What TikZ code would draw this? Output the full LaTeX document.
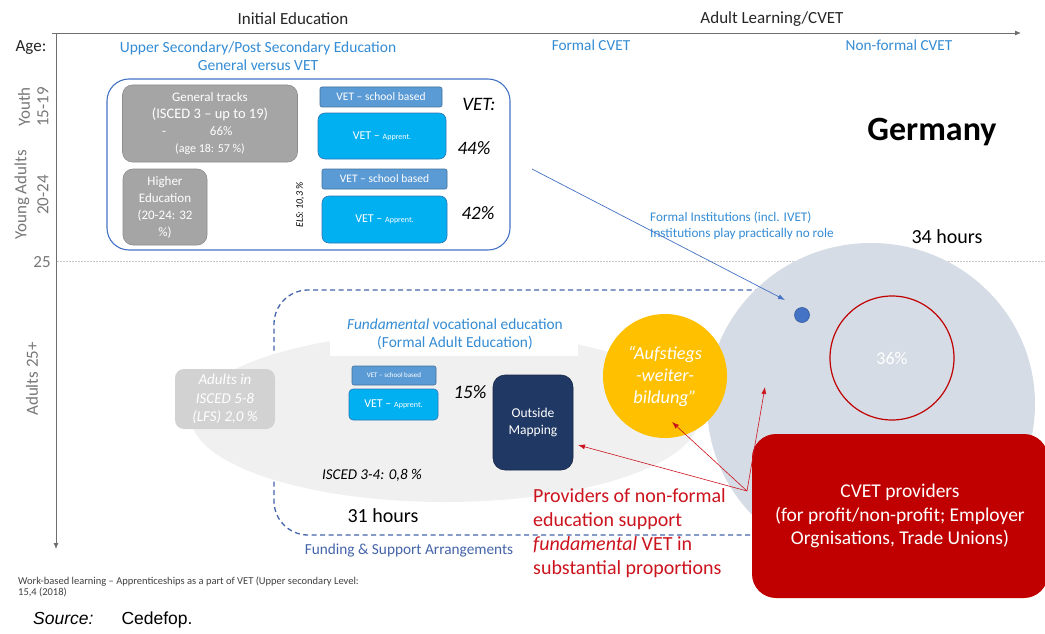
\documentclass[tikz,border=0pt]{standalone}
\usepackage{fontspec}
\setmainfont{Carlito}
\newfontfamily\arialf{Liberation Sans}
\usetikzlibrary{arrows.meta}
\definecolor{axisgray}{RGB}{110,110,110}
\definecolor{labgray}{RGB}{120,120,120}
\definecolor{txtblue}{RGB}{52,140,212}
\definecolor{frameblue}{RGB}{68,114,196}
\definecolor{gentrack}{RGB}{165,165,165}
\definecolor{gentrackb}{RGB}{140,140,140}
\definecolor{vetschool}{RGB}{91,155,213}
\definecolor{vetschoolb}{RGB}{65,113,156}
\definecolor{vetapp}{RGB}{0,176,240}
\definecolor{vetappb}{RGB}{46,117,182}
\definecolor{circgray}{RGB}{214,220,229}
\definecolor{ellgray}{RGB}{240,240,240}
\definecolor{adultgray}{RGB}{210,210,210}
\definecolor{navybox}{RGB}{32,56,100}
\definecolor{cvetred}{RGB}{192,0,0}
\definecolor{txtred}{RGB}{204,20,30}
\definecolor{yellowc}{RGB}{255,192,0}
\definecolor{dashblue}{RGB}{68,100,170}
\definecolor{dotblue}{RGB}{68,114,196}
\definecolor{dotgray}{RGB}{200,200,200}
\begin{document}
\begin{tikzpicture}[x=1pt,y=-1pt,
  axisline/.style={draw=axisgray, line width=0.9pt, -{Latex[length=6pt,width=5pt]}},
  grey box/.style={fill=gentrack, draw=gentrackb, line width=0.6pt, rounded corners=10pt, text=white, align=center, inner sep=0pt},
  schoolbox/.style={fill=vetschool, draw=vetschoolb, line width=0.6pt, rounded corners=2pt, text=white, inner sep=0pt},
  appbox/.style={fill=vetapp, draw=vetappb, line width=0.6pt, rounded corners=7pt, text=white, inner sep=0pt},
  bluetxt/.style={text=txtblue, inner sep=0pt, align=center},
  plain/.style={inner sep=0pt, align=center},
  agelab/.style={inner sep=0pt, rotate=90, text=labgray, font=\fontsize{17}{19}\selectfont},
  redarrow/.style={draw=txtred, line width=0.6pt, -{Latex[length=7pt,width=5pt]}},
]
\useasboundingbox (0,0) rectangle (1045,634);
\fill[white] (0,0) rectangle (1045,634);

% ---- axes
\coordinate (xs) at (52,33); \coordinate (xe) at (1021,33);
\coordinate (ys) at (56,33); \coordinate (ye) at (56,549);
\draw[axisline] (xs) -- (xe);
\draw[axisline] (ys) -- (ye);
\coordinate (ds) at (57,261); \coordinate (de) at (1045,261);
\draw[dotgray, line width=0.6pt, dash pattern=on 1.5pt off 1.5pt] (ds) -- (de);

\node[plain, text=black!85, font=\fontsize{17}{19}\selectfont] (init) at (293,19) {Initial Education};
\node[plain, text=black!85, font=\fontsize{17}{19}\selectfont] (adult) at (772,19) {Adult Learning/CVET};
\node[plain, text=black!85, font=\fontsize{17}{19}\selectfont] (age) at (31,48) {Age:};
\node[bluetxt, font=\fontsize{15.5}{18}\selectfont] (upper) at (258,56) {Upper Secondary/Post Secondary Education\\General versus VET};
\node[bluetxt, font=\fontsize{15.3}{18}\selectfont] (fcvet) at (591,45) {Formal CVET};
\node[bluetxt, font=\fontsize{15.3}{18}\selectfont] (nfcvet) at (899,45) {Non-formal CVET};

\node[agelab] (youth) at (24,107) {Youth};
\node[agelab] (y1519) at (43,107) {15-19};
\node[agelab] (yadult) at (22,195) {Young Adults};
\node[agelab] (y2024) at (43,195) {20-24};
\node[plain, text=labgray, font=\fontsize{17}{19}\selectfont] (y25) at (42,262) {25};
\node[agelab] (a25) at (32,379) {Adults 25+};

% ---- upper frame
\node[draw=frameblue, line width=1.1pt, rounded corners=22pt, minimum width=403pt, minimum height=171pt, inner sep=0pt] (frame) at (308.5,164.5) {};
\node[grey box, minimum width=175pt, minimum height=77pt, font=\fontsize{13}{17}\selectfont] (gen) at (210,123.5) {General tracks\\{\fontsize{14.5}{17}\selectfont(ISCED 3 -- up to 19)}\\\makebox[96pt][l]{-\hspace{44pt}66\%}\\{\fontsize{12}{13}\selectfont(age 18: 57 \%)}};
\node[grey box, minimum width=84pt, minimum height=76pt, font=\fontsize{13}{17}\selectfont] (higher) at (165,207) {Higher\\Education\\(20-24: 32\\\%)};
\node[schoolbox, minimum width=122pt, minimum height=20pt, font=\fontsize{11.5}{13}\selectfont] (vs1) at (381,97) {VET -- school based};
\node[appbox, minimum width=128pt, minimum height=46pt, font=\fontsize{12}{14}\selectfont] (va1) at (382,136) {VET -- {\fontsize{8}{10}\selectfont Apprent.}};
\node[schoolbox, minimum width=125pt, minimum height=20pt, font=\fontsize{11.5}{13}\selectfont] (vs2) at (384.5,179) {VET -- school based};
\node[appbox, minimum width=125pt, minimum height=47pt, font=\fontsize{12}{14}\selectfont] (va2) at (384.5,219.5) {VET -- {\fontsize{8}{10}\selectfont Apprent.}};
\node[plain, font=\itshape\fontsize{19}{21}\selectfont] (vetlab) at (479,104) {VET:};
\node[plain, font=\itshape\fontsize{19}{21}\selectfont] (p44) at (474,148) {44\%};
\node[plain, font=\itshape\fontsize{19}{21}\selectfont] (p42) at (478,213) {42\%};
\node[plain, rotate=90, font=\itshape\fontsize{10}{12}\selectfont] (els) at (300,205) {ELS: 10,3 \%};

\node[plain, font=\bfseries\fontsize{34}{38}\selectfont] (germany) at (932,132) {Germany};

% ---- lower region
\coordinate (dA) at (760,290); \coordinate (dB) at (274,290); \coordinate (dC) at (274,535); \coordinate (dD) at (760,535);
\draw[dashblue, line width=1.3pt, dash pattern=on 5pt off 3.5pt, rounded corners=34pt] (dA) -- (dB) -- (dC) -- (dD);
\fill[ellgray] (445,417) ellipse [x radius=254, y radius=85];

\fill[circgray] (871,404) ellipse [x radius=164, y radius=161];
\node[circle, fill=dotblue, draw=frameblue!80!black, line width=0.6pt, minimum size=15pt, inner sep=0pt] (dot) at (802,315) {};
\node[circle, draw=cvetred, line width=1.2pt, minimum size=124pt, inner sep=0pt, text=white, font=\fontsize{18}{20}\selectfont] (red36) at (892,358) {36\%};
\node[circle, fill=yellowc, minimum size=124pt, inner sep=0pt, text=white, align=center, font=\itshape\fontsize{18.3}{22}\selectfont] (yel) at (665,376) {``Aufstiegs\\-weiter-\\bildung''};

\node[bluetxt, align=left, font=\fontsize{13.2}{16}\selectfont, anchor=west] (finst) at (650,226) {Formal Institutions (incl. IVET)\\Institutions play practically no role};
\node[plain, font=\fontsize{20}{22}\selectfont] (h34) at (947,237) {34 hours};

\coordinate (blstart) at (532,169);
\coordinate (bltip) at (785,300);
\draw[draw=frameblue, line width=0.7pt, -{Latex[length=7pt,width=5pt]}] (blstart) -- (bltip);

\node[fill=white, minimum width=248pt, minimum height=43pt, inner sep=0pt] (fundbg) at (454,334.5) {};
\node[bluetxt, font=\fontsize{15.4}{18.5}\selectfont] (fund) at (455,334) {\textit{Fundamental} vocational education\\(Formal Adult Education)};

\node[fill=adultgray, rounded corners=9pt, minimum width=100pt, minimum height=60pt, inner sep=0pt, text=white, align=center, font=\itshape\fontsize{15}{18.5}\selectfont] (adults) at (225,399) {Adults in\\ISCED 5-8\\(LFS) 2,0 \%};
\node[schoolbox, minimum width=84pt, minimum height=19pt, font=\fontsize{7}{9}\selectfont] (vs3) at (394,375.5) {VET -- school based};
\node[appbox, rounded corners=4pt, minimum width=89pt, minimum height=31pt, font=\fontsize{12}{14}\selectfont] (va3) at (393.5,404.5) {VET -- {\fontsize{8}{10}\selectfont Apprent.}};
\node[plain, font=\itshape\fontsize{19}{21}\selectfont] (p15) at (470,392) {15\%};
\node[fill=navybox, draw=navybox!70!black, line width=0.6pt, rounded corners=12pt, minimum width=80pt, minimum height=95pt, inner sep=0pt, text=white, align=center, font=\fontsize{13.5}{17}\selectfont] (outside) at (533,422.5) {Outside\\Mapping};
\node[plain, font=\itshape\fontsize{15}{17}\selectfont] (isced34) at (372,475) {ISCED 3-4: 0,8 \%};
\node[plain, font=\fontsize{20}{22}\selectfont] (h31) at (383,516) {31 hours};
\node[plain, text=dashblue, font=\fontsize{15.3}{18}\selectfont] (funding) at (409,550) {Funding \& Support Arrangements};

\node[fill=cvetred, rounded corners=24pt, minimum width=296pt, minimum height=164pt, inner sep=0pt, text=white, align=center, font=\fontsize{19.5}{23.5}\selectfont] (cvet) at (900,516) {CVET providers\\(for profit/non-profit; Employer\\Orgnisations, Trade Unions)};

\node[plain, anchor=north west, align=left, text=txtred, font=\fontsize{20}{24}\selectfont] (prov) at (533,488) {Providers of non-formal\\education support\\\textit{fundamental} VET in\\substantial proportions};

\coordinate (rorig) at (747,491);
\coordinate (tipout) at (578,445);
\coordinate (tipyel) at (672,422);
\coordinate (tipcirc) at (765,387);
\draw[redarrow] (rorig) -- (tipout);
\draw[redarrow] (rorig) -- (tipyel);
\draw[redarrow] (rorig) -- (tipcirc);

\node[plain, anchor=west, align=left, text=black!75, font=\fontsize{10.5}{11.5}\selectfont] (foot) at (18,587) {Work-based learning -- Apprenticeships as a part of VET (Upper secondary Level:\\15,4 (2018)};
\node[plain, anchor=west, font=\arialf\fontsize{17.5}{20}\selectfont] (src) at (33,620) {\textit{Source:}\hspace{1.6em}Cedefop.};
\end{tikzpicture}
\end{document}
